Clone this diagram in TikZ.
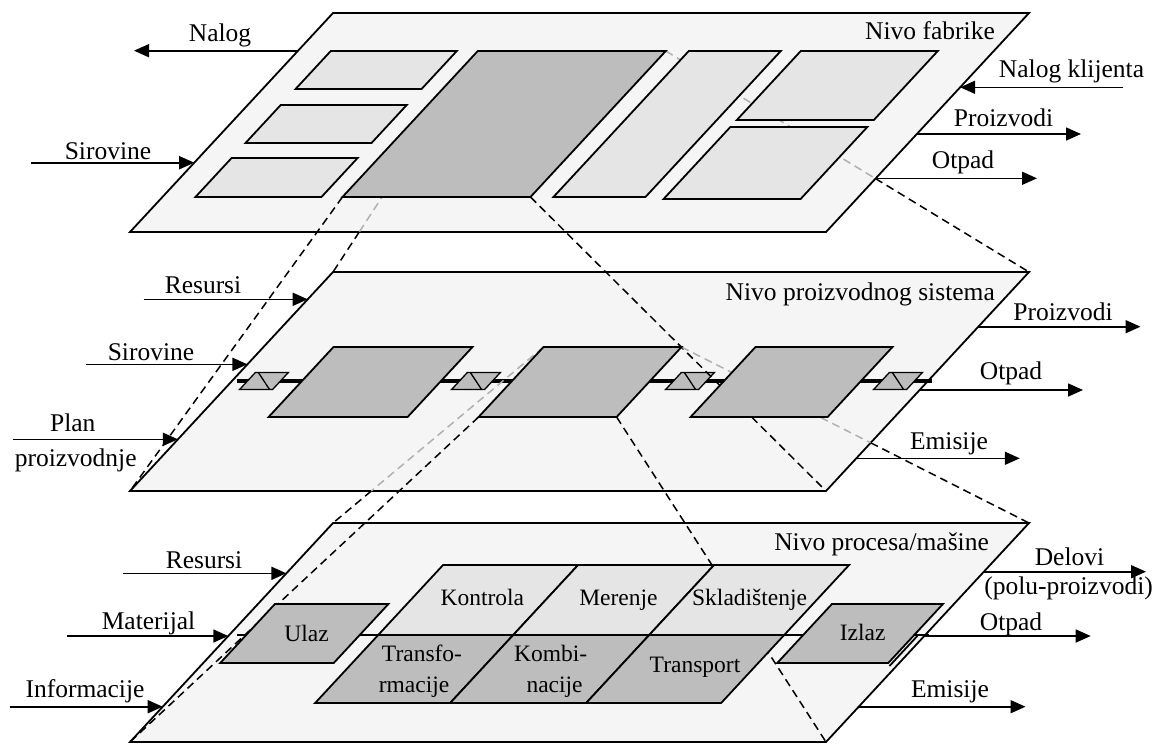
\documentclass[tikz,border=0pt]{standalone}
\usepackage{fontspec}
\setmainfont{Liberation Serif}
\usetikzlibrary{arrows.meta,intersections}

\definecolor{planefill}{HTML}{F5F5F5}
\definecolor{lightbox}{HTML}{E5E5E5}
\definecolor{darkbox}{HTML}{BDBDBD}
\definecolor{hiddenline}{HTML}{B0B0B0}

% slanted box on the current plane: style, u1, v1, u2, v2
\newcommand\slbox[5]{\draw[#1] (#2,#3) -- (#4,#3) -- (#4,#5) -- (#2,#5) -- cycle;}

\begin{document}
\begin{tikzpicture}[x=1pt, y=-1pt,
  plane/.style={draw=black, line width=1.8pt, fill=planefill},
  lbox/.style={draw=black, line width=1.8pt, fill=lightbox},
  dbox/.style={draw=black, line width=1.8pt, fill=darkbox},
  buffer/.style={draw=black, line width=1.3pt, fill=darkbox},
  flow/.style={line width=1.6pt, -{Triangle[length=15pt,width=13pt]}},
  proj/.style={line width=1.5pt, dash pattern=on 8pt off 5pt},
  hidden/.style={proj, draw=hiddenline},
  conv/.style={line width=3.6pt},
  lbl/.style={font=\fontsize{25.5}{28}\selectfont, anchor=base, inner sep=0pt},
  ilbl/.style={font=\fontsize{23.5}{26}\selectfont, anchor=base, inner sep=0pt},
  onfab/.style={shift={(130,232)}, x={(1pt,0pt)}, y={(0.927pt,1pt)}},
  onsys/.style={shift={(130,491)}, x={(1pt,0pt)}, y={(0.927pt,1pt)}},
  onproc/.style={shift={(130,742)}, x={(1pt,0pt)}, y={(0.927pt,1pt)}},
]
\useasboundingbox (0,0) rectangle (1164,745);

% ---------- coordinates on the three levels ----------
\begin{scope}[onfab]
  \coordinate (p1-bl) at (0,0);   \coordinate (p1-br) at (696,0);
  \coordinate (p1-tr) at (696,219); \coordinate (p1-tl) at (0,219);
  \coordinate (p1-nalog) at (0,181.3);
  \coordinate (p1-sirovine) at (0,69.3);
  \coordinate (p1-klijent) at (696,144.7);
  \coordinate (p1-proizvodi) at (696,98);
  \coordinate (p1-otpad) at (696,53.7);
  \coordinate (fa-bl) at (180,35);  \coordinate (fa-br) at (368,35);
  \coordinate (fa-tr) at (368,181); \coordinate (fa-tl) at (180,181);
\end{scope}
\begin{scope}[onsys]
  \coordinate (p2-bl) at (0,0);   \coordinate (p2-br) at (696,0);
  \coordinate (p2-tr) at (696,219); \coordinate (p2-tl) at (0,219);
  \coordinate (p2-resursi) at (0,191.7);
  \coordinate (p2-sirovine) at (0,126.7);
  \coordinate (p2-plan) at (0,51.7);
  \coordinate (p2-proizvodi) at (696,164.3);
  \coordinate (p2-otpad) at (696,101);
  \coordinate (p2-emisije) at (696,32.7);
  \coordinate (p2-line-a) at (5,110); \coordinate (p2-line-b) at (700,110);
  \coordinate (sb-bl) at (280,74);  \coordinate (sb-br) at (418,74);
  \coordinate (sb-tr) at (418,144); \coordinate (sb-tl) at (280,144);
\end{scope}
\begin{scope}[onproc]
  \coordinate (p3-bl) at (0,0);   \coordinate (p3-br) at (696,0);
  \coordinate (p3-tr) at (696,219); \coordinate (p3-tl) at (0,219);
  \coordinate (p3-resursi) at (0,168.7);
  \coordinate (p3-materijal) at (0,106);
  \coordinate (p3-informacije) at (0,35.3);
  \coordinate (p3-delovi) at (696,170.3);
  \coordinate (p3-otpad) at (696,106);
  \coordinate (p3-emisije) at (696,35.3);
  \coordinate (p3-line-a) at (8,107); \coordinate (p3-line-b) at (700,107);
  \coordinate (p3-rim-a) at (689,106); \coordinate (p3-rim-b) at (689,76);
\end{scope}

% ---------- planes ----------
\draw[plane] (p1-bl) -- (p1-br) -- (p1-tr) -- (p1-tl) -- cycle;
\draw[plane] (p2-bl) -- (p2-br) -- (p2-tr) -- (p2-tl) -- cycle;
\draw[plane] (p3-bl) -- (p3-br) -- (p3-tr) -- (p3-tl) -- cycle;

% ---------- material lines ----------
\draw[conv] (p2-line-a) -- (p2-line-b);
\draw[line width=2.4pt] (p3-line-a) -- (p3-line-b);
\draw[line width=1.8pt] (p3-rim-a) -- (p3-rim-b);

% buffers on the production system line
\begin{scope}[onsys]
  \foreach \c in {32,244,458,666}{
    \draw[buffer] (\c-16.5,101.5) -- (\c+16.5,101.5) -- (\c+16.5,118.5) -- (\c-16.5,118.5) -- cycle;
    \draw[line width=1.3pt] (\c-13.5,118.5) -- (\c+13.5,101.5);
  }
\end{scope}

% ---------- projection lines ----------
% edges where the rear projection lines leave a plane
\path[name path=e1-bottom] (p1-bl) -- (p1-br);
\path[name path=e1-right] (p1-br) -- (p1-tr);
\path[name path=e2-bottom] (p2-bl) -- (p2-br);
\path[name path=e2-right] (p2-br) -- (p2-tr);
\path[name path=r1] (fa-tl) -- (p2-tl);
\path[name path=r2] (fa-tr) -- (p2-tr);
\path[name path=r3] (sb-tl) -- (p3-tl);
\path[name path=r4] (sb-tr) -- (p3-tr);
\path[name intersections={of=r1 and e1-bottom, by=x1}];
\path[name intersections={of=r2 and e1-right, by=x2}];
\path[name intersections={of=r3 and e2-bottom, by=x3}];
\path[name intersections={of=r4 and e2-right, by=x4}];

% factory level -> production system
\draw[proj] (fa-bl) -- (p2-bl);
\draw[proj] (fa-br) -- (p2-br);
\draw[hidden] (fa-tl) -- (x1);
\draw[proj] (x1) -- (p2-tl);
\draw[hidden] (fa-tr) -- (x2);
\draw[proj] (x2) -- (p2-tr);
% production system -> process level
\draw[proj] (sb-bl) -- (p3-bl);
\draw[proj] (sb-br) -- (p3-br);
\draw[hidden] (sb-tl) -- (x3);
\draw[proj] (x3) -- (p3-tl);
\draw[hidden] (sb-tr) -- (x4);
\draw[proj] (x4) -- (p3-tr);

% ---------- boxes ----------
\begin{scope}[onfab]
  \slbox{lbox}{33}{143}{159}{181}
  \slbox{lbox}{33}{89}{159}{127}
  \slbox{lbox}{33}{35}{159}{74}
  \draw[dbox] (fa-bl) -- (fa-br) -- (fa-tr) -- (fa-tl) -- cycle;
  \slbox{lbox}{391}{35}{483}{181}
  \slbox{lbox}{503}{112}{640}{181}
  \slbox{lbox}{503}{33}{640}{105}
\end{scope}
\begin{scope}[onsys]
  \slbox{dbox}{70}{74}{209}{144}
  \draw[dbox] (sb-bl) -- (sb-br) -- (sb-tr) -- (sb-tl) -- cycle;
  \slbox{dbox}{492}{74}{629}{144}
\end{scope}
\begin{scope}[onproc]
  \slbox{dbox}{17}{79}{130.5}{138}
  \slbox{dbox}{574}{79}{685}{138}
  \slbox{lbox}{149}{107}{284}{177}
  \slbox{lbox}{284}{107}{420}{177}
  \slbox{lbox}{420}{107}{555}{177}
  \slbox{dbox}{149}{39}{284}{107}
  \slbox{dbox}{284}{39}{420}{107}
  \slbox{dbox}{420}{39}{555}{107}
\end{scope}

% ---------- flows: factory level ----------
\coordinate (f-nalog) at (134,50.7);
\coordinate (f-sirovine) at (30.7,162.7);
\coordinate (f-klijent) at (1123,87.3);
\coordinate (f-proizvodi) at (1081,134);
\coordinate (f-otpad) at (1037,178.3);
\draw[flow] (p1-nalog) -- (f-nalog);
\draw[flow] (f-sirovine) -- (p1-sirovine);
\draw[flow] (f-klijent) -- (p1-klijent);
\draw[flow] (p1-proizvodi) -- (f-proizvodi);
\draw[flow] (p1-otpad) -- (f-otpad);

% ---------- flows: production system ----------
\coordinate (s-resursi) at (143.7,299.3);
\coordinate (s-sirovine) at (86.2,364.3);
\coordinate (s-plan) at (13.4,439.3);
\coordinate (s-proizvodi) at (1140.5,326.7);
\coordinate (s-otpad) at (1083,390);
\coordinate (s-emisije) at (1019.8,458.3);
\draw[flow] (s-resursi) -- (p2-resursi);
\draw[flow] (s-sirovine) -- (p2-sirovine);
\draw[flow] (s-plan) -- (p2-plan);
\draw[flow] (p2-proizvodi) -- (s-proizvodi);
\draw[flow] (p2-otpad) -- (s-otpad);
\draw[flow] (p2-emisije) -- (s-emisije);

% ---------- flows: process level ----------
\coordinate (m-resursi) at (122.6,573.3);
\coordinate (m-materijal) at (67,636);
\coordinate (m-informacije) at (9.6,706.7);
\coordinate (m-delovi) at (1146,571.7);
\coordinate (m-otpad) at (1090.7,636);
\coordinate (m-emisije) at (1025.5,706.7);
\draw[flow] (m-resursi) -- (p3-resursi);
\draw[flow] (m-materijal) -- (p3-materijal);
\draw[flow] (m-informacije) -- (p3-informacije);
\draw[flow] (p3-delovi) -- (m-delovi);
\draw[flow] (p3-otpad) -- (m-otpad);
\draw[flow] (p3-emisije) -- (m-emisije);

% ---------- labels ----------
\node[lbl] (t-nalog) at (220,41) {Nalog};
\node[lbl] (t-sirovine1) at (108,159) {Sirovine};
\node[lbl, anchor=base east] (t-fab) at (995,39.3) {Nivo fabrike};
\node[lbl] (t-klijent) at (1071.5,77.3) {Nalog klijenta};
\node[lbl] (t-proizvodi1) at (1003.5,126) {Proizvodi};
\node[lbl] (t-otpad1) at (963,168.3) {Otpad};

\node[lbl] (t-resursi2) at (203,293.3) {Resursi};
\node[lbl] (t-sirovine2) at (151,360) {Sirovine};
\node[lbl] (t-plan) at (72.8,431.7) {Plan};
\node[lbl] (t-plan2) at (75.7,466.5) {proizvodnje};
\node[lbl, anchor=base east] (t-sys) at (995,300) {Nivo proizvodnog sistema};
\node[lbl] (t-proizvodi2) at (1063,320) {Proizvodi};
\node[lbl] (t-otpad2) at (1011,379.3) {Otpad};
\node[lbl] (t-emisije2) at (949,449.3) {Emisije};

\node[lbl] (t-resursi3) at (204,568.3) {Resursi};
\node[lbl] (t-materijal) at (148.5,629.3) {Materijal};
\node[lbl] (t-informacije) at (85,697.3) {Informacije};
\node[lbl, anchor=base east] (t-proc) at (989,550) {Nivo procesa/mašine};
\node[lbl] (t-delovi) at (1069.5,565) {Delovi};
\node[lbl] (t-delovi2) at (1068.6,594) {(polu-proizvodi)};
\node[lbl] (t-otpad3) at (1011,630) {Otpad};
\node[lbl] (t-emisije3) at (950,697.3) {Emisije};

\node[ilbl] (t-kontrola) at (482.4,605) {Kontrola};
\node[ilbl] (t-merenje) at (618.4,605) {Merenje};
\node[ilbl] (t-skladistenje) at (749.6,605) {Skladištenje};
\node[ilbl] (t-ulaz) at (306.5,641.7) {Ulaz};
\node[ilbl] (t-izlaz) at (862.7,640) {Izlaz};
\node[ilbl] (t-transf) at (422,661.7) {Transfo-};
\node[ilbl] (t-transf2) at (414,692.7) {rmacije};
\node[ilbl] (t-kombi) at (550.6,661.7) {Kombi-};
\node[ilbl] (t-kombi2) at (554.6,692.7) {nacije};
\node[ilbl] (t-transport) at (695,672.7) {Transport};
\end{tikzpicture}
\end{document}
